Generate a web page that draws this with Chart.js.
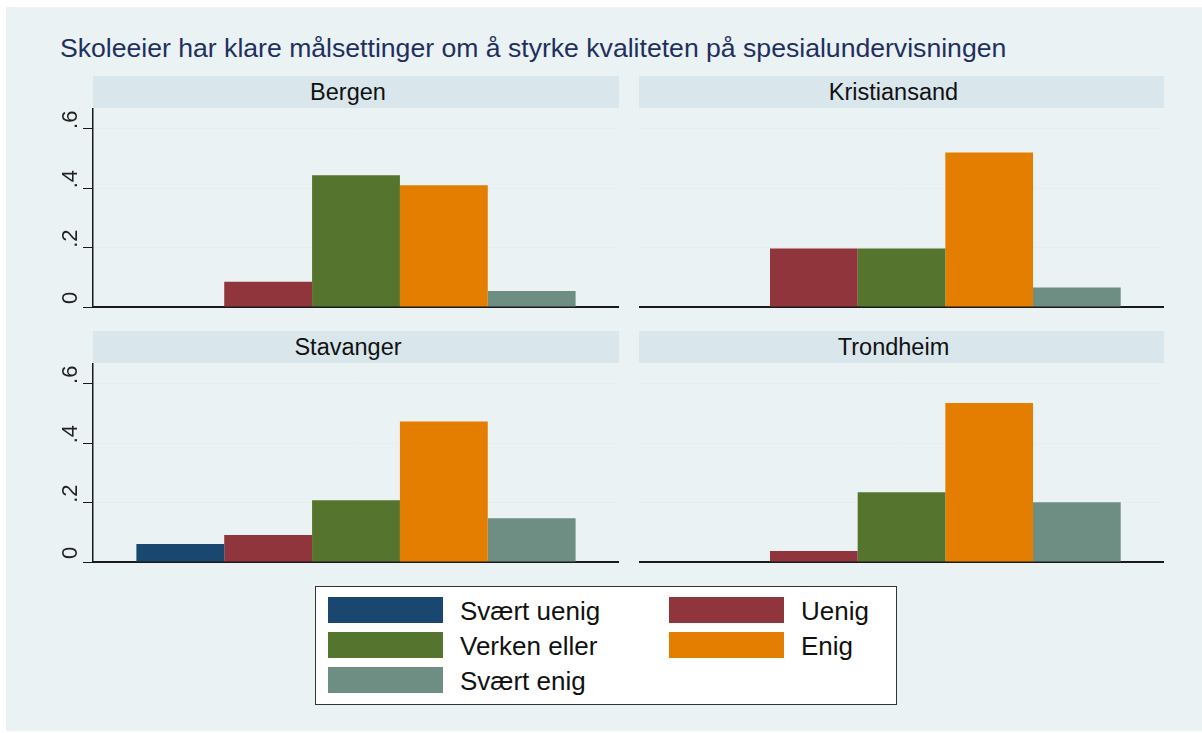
<!DOCTYPE html>
<html>
<head>
<meta charset="utf-8">
<script src="https://cdn.jsdelivr.net/npm/chart.js@4.4.1/dist/chart.umd.min.js"></script>
<style>
  body { margin: 0; background: #fff; font-family: "Liberation Sans", Arial, sans-serif; }
  #page { position: relative; width: 1202px; height: 733px; overflow: hidden; }
  #bg { position: absolute; left: 6px; top: 7px; width: 1196px; height: 724px; background: #eaf2f3; }
  #title { position: absolute; left: 60px; top: 34px; font-size: 25px; color: #1f3060; white-space: nowrap;
           transform: scaleX(1.064); transform-origin: left top; }
  .strip { position: absolute; height: 32px; line-height: 32px; background: #d9e6eb; text-align: center;
           font-size: 23.5px; color: #111; box-sizing: border-box; padding-right: 16px; }
  .panel { position: absolute; }
  #legend { position: absolute; left: 315px; top: 586px; width: 580px; height: 117px; background: #fff; border: 1.5px solid #333; }
  .sw { position: absolute; width: 115px; height: 26px; }
  .lt { position: absolute; font-size: 26px; color: #111; line-height: 26px; white-space: nowrap; }
</style>
</head>
<body>
<div id="page">
  <div id="bg"></div>
  <div id="title">Skoleeier har klare målsettinger om å styrke kvaliteten på spesialundervisningen</div>
  <div id="panels"></div>
  <div id="legend"></div>
</div>
<script>
// Answer categories and their colours (Stata s2color)
const categories = ['Svært uenig', 'Uenig', 'Verken eller', 'Enig', 'Svært enig'];
const colors = ['#1a476f', '#90353b', '#55752f', '#e37e00', '#6e8e84'];

// Cities (panels)
const cities = ['Bergen', 'Kristiansand', 'Stavanger', 'Trondheim'];

// Share of answers per city, in category order
const bergen = [0, 0.085, 0.444, 0.41, 0.054];
const kristiansand = [0, 0.197, 0.197, 0.52, 0.066];
const stavanger = [0.061, 0.091, 0.208, 0.473, 0.147];
const trondheim = [0, 0.037, 0.235, 0.535, 0.201];
const cityValues = [bergen, kristiansand, stavanger, trondheim];

// Y axis
const yTicks = [0, 0.2, 0.4, 0.6];
const yTickLabels = ['0', '.2', '.4', '.6'];
const yMax = 0.67;

// Panel placement: [stripLeft, stripTop, width]
const layout = [
    [93, 76, 526],
    [639, 76, 525],
    [93, 331, 526],
    [639, 331, 525]
];

// Rotated y tick labels, placed through the y scale
const yLabelPlugin = {
    id: 'yLabels',
    afterDraw(chart, args, opts) {
        if (!opts.show) return;
        const scale = chart.scales.y;
        const ctx = chart.ctx;
        ctx.save();
        ctx.font = '22px "Liberation Sans", Arial, sans-serif';
        ctx.fillStyle = '#222';
        ctx.textAlign = 'center';
        ctx.textBaseline = 'alphabetic';
        scale.ticks.forEach((t, i) => {
            const py = scale.getPixelForValue(t.value) - 9;
            ctx.save();
            ctx.translate(scale.right - 16, py);
            ctx.rotate(-Math.PI / 2);
            ctx.fillText(yTickLabels[i], 0, 0);
            ctx.restore();
        });
        ctx.restore();
    }
};

const panelsEl = document.getElementById('panels');

cities.forEach((city, p) => {
    const [left, top, width] = layout[p];
    const isLeft = p % 2 === 0;
    const axisW = isLeft ? 53 : 0;

    const strip = document.createElement('div');
    strip.className = 'strip';
    strip.style.left = left + 'px';
    strip.style.top = top + 'px';
    strip.style.width = width + 'px';
    strip.textContent = city;
    panelsEl.appendChild(strip);

    const box = document.createElement('div');
    box.className = 'panel';
    box.style.left = (left - axisW) + 'px';
    box.style.top = (top + 32) + 'px';
    box.style.width = (width + axisW) + 'px';
    box.style.height = '202px';
    const canvas = document.createElement('canvas');
    box.appendChild(canvas);
    panelsEl.appendChild(box);

    new Chart(canvas.getContext('2d'), {
        type: 'bar',
        data: {
            labels: [city],
            datasets: categories.map((c, i) => ({
                label: c,
                data: [cityValues[p][i]],
                backgroundColor: colors[i],
                borderWidth: 0,
                categoryPercentage: 0.835,
                barPercentage: 1
            }))
        },
        plugins: [yLabelPlugin],
        options: {
            responsive: true,
            maintainAspectRatio: false,
            animation: false,
            layout: { padding: { top: 0, bottom: 3, left: 0, right: 0 } },
            plugins: {
                legend: { display: false },
                tooltip: { enabled: false },
                yLabels: { show: isLeft }
            },
            scales: {
                x: {
                    ticks: { display: false },
                    grid: { display: false },
                    border: { display: true, color: '#1a1a1a', width: 2 },
                    afterFit: scale => { scale.height = 0; }
                },
                y: {
                    min: 0,
                    max: yMax,
                    afterBuildTicks: scale => { scale.ticks = yTicks.map(v => ({ value: v })); },
                    ticks: { display: false },
                    grid: {
                        color: '#e6eef1',
                        lineWidth: 1,
                        drawTicks: isLeft,
                        tickLength: 10,
                        tickColor: '#1a1a1a'
                    },
                    border: { display: isLeft, color: '#1a1a1a', width: 1.5 },
                    afterFit: scale => { scale.width = axisW; }
                }
            }
        }
    });
});

// Legend, two columns
const legendEl = document.getElementById('legend');
const colX = [328 - 316, 669 - 316];
const textX = [460 - 316, 801 - 316];
categories.forEach((c, i) => {
    const col = i % 2;
    const row = Math.floor(i / 2);
    const top = 597 - 587 + row * 35;
    const sw = document.createElement('div');
    sw.className = 'sw';
    sw.style.left = colX[col] + 'px';
    sw.style.top = top + 'px';
    sw.style.background = colors[i];
    legendEl.appendChild(sw);
    const t = document.createElement('div');
    t.className = 'lt';
    t.style.left = textX[col] + 'px';
    t.style.top = (top + 1) + 'px';
    t.textContent = c;
    legendEl.appendChild(t);
});
</script>
</body>
</html>
